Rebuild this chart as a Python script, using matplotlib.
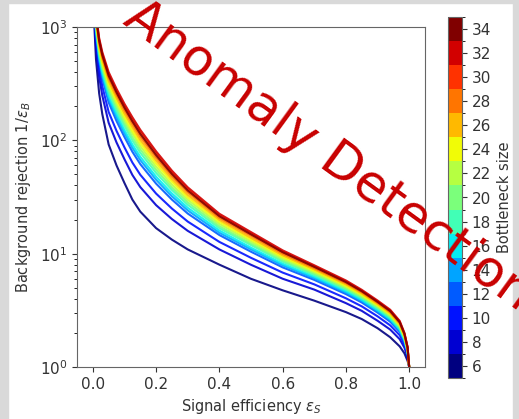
import numpy as np
import matplotlib
matplotlib.use("Agg")
import matplotlib.pyplot as plt
from matplotlib.colors import BoundaryNorm
from matplotlib.cm import ScalarMappable
from matplotlib.patches import Rectangle

# signal efficiency grid shared by all curves
eff = [0.003, 0.01, 0.02, 0.03, 0.05, 0.075, 0.1, 0.125, 0.15, 0.2, 0.25, 0.3,
       0.4, 0.5, 0.6, 0.7, 0.8, 0.85, 0.9, 0.94, 0.97, 0.985, 0.995, 1.0]

# background rejection 1/eps_B, one list per bottleneck size
rej_06 = [1300, 520, 260, 170, 92, 60, 42, 30, 23.5, 16.8, 13.3, 10.9, 8.0, 6.0, 4.75, 3.85, 3.05, 2.65, 2.2, 1.83, 1.52, 1.32, 1.13, 1.0]
rej_08 = [1671, 684, 364, 248, 143, 95.7, 68.1, 49.5, 38.7, 26.8, 20.2, 15.9, 10.9, 7.98, 6.01, 4.82, 3.66, 3.13, 2.56, 2.14, 1.76, 1.48, 1.22, 1.0]
rej_10 = [1892, 785, 432, 300, 178, 121, 86.7, 63.7, 49.7, 33.9, 25.0, 19.2, 12.7, 9.19, 6.81, 5.36, 4.04, 3.43, 2.80, 2.33, 1.91, 1.58, 1.28, 1.0]
rej_12 = [2113, 885, 499, 353, 216, 148, 107, 79.3, 61.7, 41.5, 30.0, 22.6, 14.6, 10.4, 7.57, 5.87, 4.40, 3.71, 3.02, 2.51, 2.04, 1.67, 1.33, 1.0]
rej_14 = [2203, 927, 527, 376, 232, 160, 116, 86.1, 67.0, 44.9, 32.1, 24.1, 15.3, 10.9, 7.89, 6.08, 4.54, 3.83, 3.11, 2.59, 2.10, 1.71, 1.35, 1.0]
rej_16 = [2275, 962, 552, 395, 246, 171, 123, 92.0, 71.6, 47.8, 34.0, 25.4, 16.0, 11.3, 8.15, 6.27, 4.67, 3.92, 3.18, 2.65, 2.14, 1.73, 1.36, 1.0]
rej_18 = [2371, 1007, 583, 422, 265, 184, 134, 100, 77.8, 51.6, 36.5, 27.0, 16.8, 11.9, 8.49, 6.49, 4.82, 4.05, 3.28, 2.72, 2.20, 1.77, 1.38, 1.0]
rej_20 = [2455, 1042, 611, 443, 281, 196, 143, 107, 83.2, 55.0, 38.5, 28.4, 17.5, 12.3, 8.77, 6.67, 4.94, 4.14, 3.36, 2.79, 2.25, 1.80, 1.40, 1.0]
rej_22 = [2535, 1081, 638, 466, 298, 209, 152, 115, 88.9, 58.5, 40.7, 29.9, 18.3, 12.8, 9.08, 6.87, 5.08, 4.25, 3.44, 2.85, 2.30, 1.84, 1.42, 1.0]
rej_24 = [2624, 1122, 668, 490, 316, 222, 162, 122, 94.8, 62.4, 43.2, 31.4, 19.1, 13.3, 9.38, 7.06, 5.21, 4.35, 3.52, 2.92, 2.34, 1.87, 1.43, 1.0]
rej_26 = [2710, 1164, 698, 515, 335, 237, 173, 131, 101, 66.4, 45.6, 33.0, 19.9, 13.8, 9.68, 7.26, 5.36, 4.46, 3.60, 2.99, 2.39, 1.90, 1.45, 1.0]
rej_28 = [2805, 1208, 731, 542, 356, 252, 185, 140, 108, 70.6, 48.2, 34.8, 20.7, 14.4, 10.0, 7.46, 5.50, 4.57, 3.69, 3.05, 2.45, 1.93, 1.47, 1.0]
rej_30 = [2924, 1265, 773, 578, 383, 272, 200, 152, 118, 76.4, 51.8, 37.1, 21.8, 15.1, 10.4, 7.74, 5.68, 4.71, 3.79, 3.15, 2.51, 1.97, 1.49, 1.0]
rej_32 = [3000, 1300, 800, 600, 400, 285, 210, 160, 124, 80.0, 54.0, 38.5, 22.5, 15.5, 10.7, 7.90, 5.80, 4.80, 3.86, 3.20, 2.55, 2.00, 1.50, 1.0]
rej_34 = [2877, 1242, 757, 564, 372, 264, 194, 147, 114, 74.0, 50.4, 36.1, 21.4, 14.8, 10.3, 7.64, 5.61, 4.66, 3.75, 3.11, 2.48, 1.96, 1.48, 1.0]

sizes = [6, 8, 10, 12, 14, 16, 18, 20, 22, 24, 26, 28, 30, 32, 34]
curves = [rej_06, rej_08, rej_10, rej_12, rej_14, rej_16, rej_18, rej_20,
          rej_22, rej_24, rej_26, rej_28, rej_30, rej_32, rej_34]

W, H = 519, 419
fig = plt.figure(figsize=(W / 100, H / 100), dpi=100)

# grey frame of the screenshot
for (x0, y0, w, h) in [(0, 0, 8, H), (0, H - 3, W, 3), (W - 6, 0, 6, H)]:
    fig.patches.append(Rectangle((x0 / W, y0 / H), w / W, h / H,
                                 transform=fig.transFigure, color="#d9d9d9", zorder=0))

ax = fig.add_axes([77 / W, 52 / H, 348 / W, 340 / H])
cax = fig.add_axes([448 / W, 41 / H, 14 / W, 361 / H])

bounds = np.arange(5, 36, 2)
cmap = plt.get_cmap("jet", len(sizes))
norm = BoundaryNorm(bounds, cmap.N)

for s, r in zip(sizes, curves):
    ax.plot(eff, r, color=cmap(norm(s)), lw=1.5, alpha=0.9)

ax.set_yscale("log")
ax.set_ylim(1, 1000)
ax.set_xlim(-0.05, 1.05)
ax.set_xticks([0.0, 0.2, 0.4, 0.6, 0.8, 1.0])
ax.set_xlabel(r"Signal efficiency $\varepsilon_S$", fontsize=10.5, color="#333333")
ax.set_ylabel(r"Background rejection $1/\varepsilon_B$", fontsize=10.5, color="#333333",
              labelpad=5)
ax.tick_params(labelsize=11, colors="#333333")
for sp in ax.spines.values():
    sp.set_color("#666666")

sm = ScalarMappable(norm=norm, cmap=cmap)
cb = fig.colorbar(sm, cax=cax, ticks=sizes)
cb.set_label("Bottleneck size", fontsize=10.5, color="#333333")
cb.ax.tick_params(labelsize=11, colors="#333333")
cb.outline.set_edgecolor("#666666")

fig.text(328 / W, 1 - 156 / H, "Anomaly Detection", fontsize=37, color="#c80000",
         rotation=-36, ha="center", va="center", zorder=10)

fig.savefig("out.png", dpi=100)
